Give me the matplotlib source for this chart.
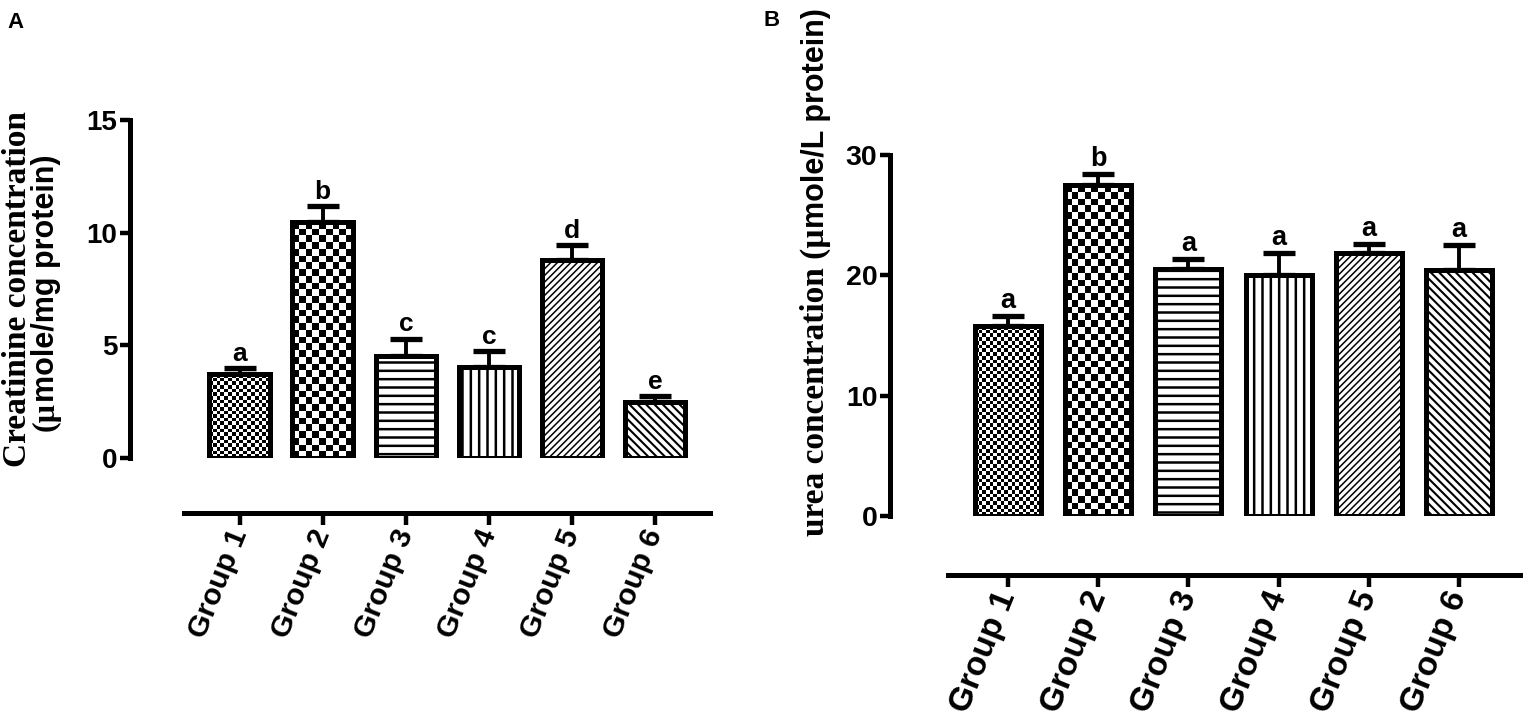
import numpy as np
import matplotlib
matplotlib.use("Agg")
import matplotlib.pyplot as plt

plt.rcParams['hatch.linewidth'] = 1.8

groups = ["Group 1", "Group 2", "Group 3", "Group 4", "Group 5", "Group 6"]

# panel A - creatinine
cre_mean = [3.72, 10.47, 4.53, 4.03, 8.78, 2.48]
cre_err = [0.27, 0.72, 0.77, 0.70, 0.68, 0.26]
cre_letters = ["a", "b", "c", "c", "d", "e"]

# panel B - urea
urea_mean = [15.78, 27.5, 20.55, 20.05, 21.87, 20.43]
urea_err = [0.87, 0.88, 0.83, 1.78, 0.72, 2.07]
urea_letters = ["a", "b", "a", "a", "a", "a"]

# fill style per group: checker cell size in px, or (hatch, hatch linewidth)
fills = [("checker", 3.7), ("checker", 6.8), ("hatch", ("--", 1.8)),
         ("hatch", ("||", 1.8)), ("hatch", ("/////", 1.1)), ("hatch", ("\\\\\\\\", 1.5))]

SANS = "Liberation Sans"
SERIF = "Liberation Serif"
LW = 3.6


def checker(ax, bar, cell):
    x0, y0 = bar.get_x(), bar.get_y()
    w, h = bar.get_width(), bar.get_height()
    (px0, py0), (px1, py1) = ax.transData.transform([(x0, y0), (x0 + w, y0 + h)])
    nx = max(1, int(round((px1 - px0) / cell)))
    ny = max(1, int(round((py1 - py0) / cell)))
    img = np.add.outer(np.arange(ny), np.arange(nx)) % 2
    im = ax.imshow(img, cmap="gray", vmin=0, vmax=1, extent=(x0, x0 + w, y0, y0 + h),
                   origin="lower", interpolation="nearest", aspect="auto", zorder=2.5)
    im.set_clip_path(bar)


def panel(ax, means, errs, letters, ymax, ystep, xlim, left_off, bottom_off,
          ytick_fs, xtick_fs, letter_fs):
    x = np.arange(len(means))
    ax.set_xlim(*xlim)
    ax.set_ylim(0, ymax)
    bars = ax.bar(x, means, width=0.73, color="white", edgecolor="black",
                  linewidth=0, zorder=2)
    for b, (kind, val) in zip(bars, fills):
        if kind == "hatch":
            b.set_hatch(val[0])
            if hasattr(b, "set_hatch_linewidth"):
                b.set_hatch_linewidth(val[1])
    for b, (kind, val) in zip(bars, fills):
        if kind == "checker":
            checker(ax, b, val)
    outline = ax.bar(x, means, width=0.73, facecolor="none", edgecolor="black",
                     linewidth=LW, zorder=4)
    for b in outline:
        b.set_joinstyle("miter")
    ax.errorbar(x, means, yerr=[np.zeros(len(errs)), errs], fmt="none", ecolor="black",
                elinewidth=2.8, capsize=11.5, capthick=3.8, zorder=1)
    for xi, m, e, t in zip(x, means, errs, letters):
        ax.annotate(t, (xi, m + e), xytext=(0, 1.5), textcoords="offset points",
                    ha="center", va="bottom", fontsize=letter_fs, fontweight="bold",
                    family=SANS, annotation_clip=False)
    ax.set_xlim(*xlim)
    ax.set_ylim(0, ymax)

    for s in ["top", "right"]:
        ax.spines[s].set_visible(False)
    ax.spines["left"].set_position(("outward", left_off))
    ax.spines["bottom"].set_position(("outward", bottom_off))
    ax.spines["left"].set_bounds(0, ymax)
    for s in ["left", "bottom"]:
        ax.spines[s].set_linewidth(LW)
    yt = np.arange(0, ymax + 0.1, ystep)
    ax.set_yticks(yt)
    ax.set_yticklabels([str(int(v)) for v in yt],
                       fontsize=ytick_fs, fontweight="bold", family=SANS)
    ax.set_xticks(x)
    ax.set_xticklabels(groups, rotation=68, ha="right", va="center", rotation_mode="anchor",
                       fontsize=xtick_fs, fontweight="bold", family=SANS)
    ax.tick_params(axis="y", direction="out", length=7, width=3.2, pad=2)
    ax.tick_params(axis="x", direction="out", length=8.5, width=3.2, pad=4)
    ax.patch.set_visible(False)


W, H = 1523, 717
fig = plt.figure(figsize=(W / 100, H / 100), dpi=100)

axA = fig.add_axes([184 / W, 1 - 458 / H, 526 / W, 338 / H])
panel(axA, cre_mean, cre_err, cre_letters, 15, 5, (-0.67, 5.66), 38.9, 39.6,
      20, 21.5, 19)

axB = fig.add_axes([948 / W, 1 - 516 / H, 572 / W, 361 / H])
panel(axB, urea_mean, urea_err, urea_letters, 30, 10, (-0.665, 5.676), 41.8, 42.5,
      20.5, 24, 19.5)

# y labels, mixed serif / sans like the original
fig.text(26 / W, 1 - 289 / H, "Creatinine concentration", rotation=90, ha="center",
         va="baseline", rotation_mode="anchor", fontsize=24, fontweight="bold", family=SERIF)
jA = 1 - 402 / H
fig.text(54 / W, jA, "(\u00b5", rotation=90, ha="right", va="baseline",
         rotation_mode="anchor", fontsize=23, fontweight="bold", family=SERIF)
fig.text(54 / W, jA, "mole/mg protein)", rotation=90, ha="left", va="baseline",
         rotation_mode="anchor", fontsize=22, fontweight="bold", family=SANS)

jB = 1 - 228 / H
fig.text(824 / W, jB, "urea concentration (\u00b5", rotation=90, ha="right", va="baseline",
         rotation_mode="anchor", fontsize=24, fontweight="bold", family=SERIF)
fig.text(824 / W, jB, "mole/L protein)", rotation=90, ha="left", va="baseline",
         rotation_mode="anchor", fontsize=22, fontweight="bold", family=SANS)

fig.text(15 / W, 1 - 22 / H, "A", fontsize=16, fontweight="bold", family=SANS,
         ha="center", va="center")
fig.text(772 / W, 1 - 20 / H, "B", fontsize=16, fontweight="bold", family=SANS,
         ha="center", va="center")

fig.savefig("out.png", dpi=100, facecolor="white")
